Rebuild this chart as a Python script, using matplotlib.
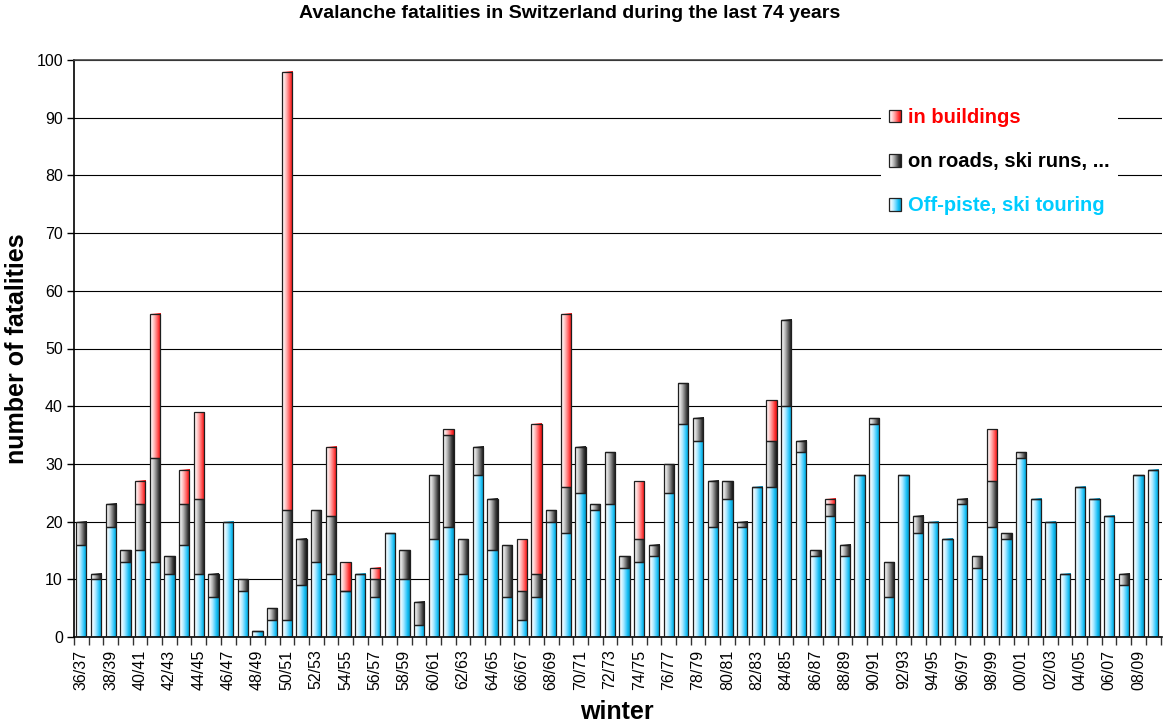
import numpy as np
import matplotlib
matplotlib.use("Agg")
import matplotlib.pyplot as plt
from matplotlib.colors import LinearSegmentedColormap
from matplotlib.patches import Patch, Rectangle
from matplotlib.legend_handler import HandlerBase

plt.rcParams['font.family'] = ['Liberation Sans', 'DejaVu Sans']

# winters 36/37 ... 09/10
start_years = list(range(1936, 2010))
winters = [f"{y % 100:02d}/{(y + 1) % 100:02d}" for y in start_years]

# fatalities per category (stacked: off-piste at bottom, roads, buildings on top)
off_piste = [16, 10, 19, 13, 15, 13, 11, 16, 11, 7,
             20, 8, 1, 3, 3, 9, 13, 11, 8, 11,
             7, 18, 10, 2, 17, 19, 11, 28, 15, 7,
             3, 7, 20, 18, 25, 22, 23, 12, 13, 14,
             25, 37, 34, 19, 24, 19, 26, 26, 40, 32,
             14, 21, 14, 28, 37, 7, 28, 18, 20, 17,
             23, 12, 19, 17, 31, 24, 20, 11, 26, 24,
             21, 9, 28, 29]
roads = [4, 1, 4, 2, 8, 18, 3, 7, 13, 4,
         0, 2, 0, 2, 19, 8, 9, 10, 0, 0,
         3, 0, 5, 4, 11, 16, 6, 5, 9, 9,
         5, 4, 2, 8, 8, 1, 9, 2, 4, 2,
         5, 7, 4, 8, 3, 1, 0, 8, 15, 2,
         1, 2, 2, 0, 1, 6, 0, 3, 0, 0,
         1, 2, 8, 1, 1, 0, 0, 0, 0, 0,
         0, 2, 0, 0]
buildings = [0, 0, 0, 0, 4, 25, 0, 6, 15, 0,
             0, 0, 0, 0, 76, 0, 0, 12, 5, 0,
             2, 0, 0, 0, 0, 1, 0, 0, 0, 0,
             9, 26, 0, 30, 0, 0, 0, 0, 10, 0,
             0, 0, 0, 0, 0, 0, 0, 7, 0, 0,
             0, 1, 0, 0, 0, 0, 0, 0, 0, 0,
             0, 0, 9, 0, 0, 0, 0, 0, 0, 0,
             0, 0, 0, 0]

# light on the left, saturated towards the right edge
blue_cmap = LinearSegmentedColormap.from_list(
    'blue', ['#ffffff', '#e6f8ff', '#b2ebff', '#62d4ff', '#13bdf2', '#0a96c4'])
gray_cmap = LinearSegmentedColormap.from_list(
    'gray', ['#ffffff', '#e2e2e2', '#b4b4b4', '#7a7a7a', '#3c3c3c', '#151515'])
red_cmap = LinearSegmentedColormap.from_list(
    'red', ['#ffffff', '#ffe4e4', '#ffb6b6', '#ff7a7a', '#ff3838', '#e01010'])


class GradientHandler(HandlerBase):
    def __init__(self, cmap):
        super().__init__()
        self.cmap = cmap

    def create_artists(self, legend, orig_handle, xdescent, ydescent,
                       width, height, fontsize, trans):
        n = 12
        arts = []
        for i in range(n):
            arts.append(Rectangle((-xdescent + width * i / n, -ydescent), width / n * 1.05, height,
                                  facecolor=self.cmap((i + 0.5) / n), edgecolor='none',
                                  antialiased=False, transform=trans))
        arts.append(Rectangle((-xdescent, -ydescent), width, height, facecolor='none',
                              edgecolor='#222222', lw=0.9, transform=trans))
        return arts


fig = plt.figure(figsize=(11.64, 7.26), dpi=100)
ax = fig.add_axes([74 / 1164, 1 - 637 / 726, 1088 / 1164, 577 / 726])

x = np.arange(len(winters))
w = 0.7
grad = np.linspace(0, 1, 64).reshape(1, -1)

bottom = np.zeros(len(x))
for vals, cmap in [(off_piste, blue_cmap), (roads, gray_cmap), (buildings, red_cmap)]:
    vals = np.array(vals, dtype=float)
    for xi, b, h in zip(x, bottom, vals):
        if h > 0:
            ax.imshow(grad, cmap=cmap, extent=(xi - w / 2, xi + w / 2, b, b + h),
                      aspect='auto', interpolation='bilinear', zorder=2)
    ax.bar(x, vals, w, bottom=bottom, facecolor='none', edgecolor='#1e1e1e',
           linewidth=0.9, zorder=3)
    bottom += vals

ax.set_xlim(-0.5, 73.6)
ax.set_ylim(0, 100)
ax.set_yticks(np.arange(0, 101, 10))
ax.yaxis.grid(True, color='black', linewidth=0.8)
ax.set_axisbelow(True)

ax.set_xticks(x[::2])
ax.set_xticklabels(winters[::2], rotation=90)
ax.set_xticks(np.arange(-0.5, 74, 1), minor=True)
ax.tick_params(axis='x', which='major', length=0, pad=9, labelsize=11.5)
ax.tick_params(axis='x', which='minor', length=6, width=1, color='#333333', direction='out')
ax.tick_params(axis='y', length=5, width=1, labelsize=11.5, pad=3)

for s in ['left', 'bottom']:
    ax.spines[s].set_color('black')
    ax.spines[s].set_linewidth(1.2)
ax.spines['top'].set_color('#444444')
ax.spines['top'].set_linewidth(1.2)
ax.spines['right'].set_visible(False)

fig.text(570 / 1164, 1 - 13 / 726, 'Avalanche fatalities in Switzerland during the last 74 years',
         ha='center', va='center', fontsize=14, fontweight='bold')
fig.text(17 / 1164, 1 - 349 / 726, 'number of fatalities', rotation=90,
         ha='center', va='center', fontsize=18, fontweight='bold')
fig.text(617 / 1164, 1 - 712 / 726, 'winter', ha='center', va='center',
         fontsize=18, fontweight='bold')

h_red = Patch(label='in buildings')
h_gray = Patch(label='on roads, ski runs, ...')
h_blue = Patch(label='Off-piste, ski touring')
leg = ax.legend(handles=[h_red, h_gray, h_blue],
                handler_map={h_red: GradientHandler(red_cmap),
                             h_gray: GradientHandler(gray_cmap),
                             h_blue: GradientHandler(blue_cmap)},
                loc='upper left', bbox_to_anchor=((881 - 74) / 1088, (637 - 100) / 577),
                borderaxespad=0, frameon=True, fancybox=False, framealpha=1,
                facecolor='white', edgecolor='none',
                prop={'weight': 'bold', 'size': 14.5}, labelcolor=['#ff0000', 'black', '#00ccff'],
                handlelength=0.6, handleheight=0.6, handletextpad=0.35, labelspacing=1.25,
                borderpad=0.4)
leg.set_zorder(5)

fig.savefig('out.png', dpi=100)
